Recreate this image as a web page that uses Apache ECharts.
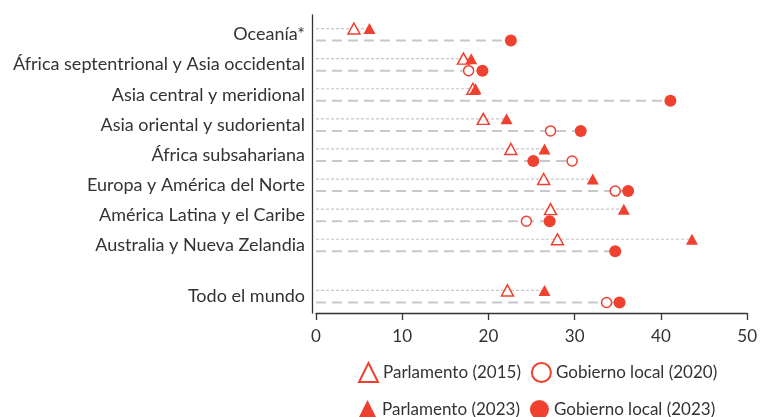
<!DOCTYPE html>
<html lang="es">

<head>
    <meta charset="UTF-8">
    <title>Mujeres en parlamentos y gobiernos locales</title>
    <style>
        body {
            margin: 0;
            background: #fff;
        }
    </style>
</head>

<body>
    <div id="chart" style="width: 760px;height: 417px;"></div>
    <script src="https://cdn.jsdelivr.net/npm/echarts@6/dist/echarts.min.js"></script>
    <script>
        // regiones y su posicion vertical (Todo el mundo va separado)
        var regions = ['Oceanía*', 'África septentrional y Asia occidental', 'Asia central y meridional',
            'Asia oriental y sudoriental', 'África subsahariana', 'Europa y América del Norte',
            'América Latina y el Caribe', 'Australia y Nueva Zelandia', 'Todo el mundo'];
        var rowPos = [0, 1, 2, 3, 4, 5, 6, 7, 8.7];
        var parl2015 = [4.4, 17.1, 18.2, 19.4, 22.6, 26.4, 27.2, 28.0, 22.2];
        var parl2023 = [6.2, 18.0, 18.5, 22.1, 26.5, 32.1, 35.7, 43.6, 26.5];
        var local2020 = [null, 17.7, null, 27.2, 29.7, 34.7, 24.4, null, 33.7];
        var local2023 = [22.6, 19.3, 41.1, 30.7, 25.2, 36.2, 27.1, 34.7, 35.2];
        var xTicks = [0, 10, 20, 30, 40, 50];

        var red = '#ef4130';
        var txt = '#333333';
        var font = 'Lato';

        function points(vals, shift) {
            var out = [];
            vals.forEach(function (v, i) {
                if (v !== null) out.push([v, rowPos[i] + shift]);
            });
            return out;
        }

        function guides(a, b, shift) {
            return rowPos.map(function (p, i) {
                return [Math.max(a[i] || 0, b[i] || 0), p + shift];
            });
        }

        function dashRender(dash, width) {
            return function (params, api) {
                var s = api.coord([0, api.value(1)]);
                var e = api.coord([api.value(0), api.value(1)]);
                return {
                    type: 'line',
                    shape: { x1: s[0], y1: s[1], x2: e[0], y2: e[1] },
                    style: { stroke: '#c8c8c8', lineWidth: width, lineDash: dash }
                };
            };
        }

        var legendText = { color: txt, fontFamily: font, fontSize: 17 };

        var chart = echarts.init(document.getElementById('chart'));
        var option = {
            animation: false,
            grid: { left: 316, right: 9, top: 15, bottom: 104 },
            xAxis: {
                type: 'value',
                min: xTicks[0],
                max: xTicks[xTicks.length - 1],
                interval: 10,
                splitLine: { show: false },
                axisLine: { show: true, onZero: false, lineStyle: { color: '#333', width: 1.3 } },
                axisTick: { show: true, length: 7, lineStyle: { color: '#333', width: 1.3 } },
                axisLabel: { color: txt, fontFamily: font, fontSize: 17, margin: 15 }
            },
            yAxis: {
                type: 'value',
                inverse: true,
                min: -0.65,
                max: 9.25,
                interval: 0.05,
                offset: 4,
                splitLine: { show: false },
                axisTick: { show: false },
                axisLine: { show: true, onZero: false, lineStyle: { color: '#333', width: 1.3 } },
                axisLabel: {
                    color: txt, fontFamily: font, fontSize: 18, margin: 7,
                    formatter: function (v) {
                        for (var i = 0; i < rowPos.length; i++) {
                            if (Math.abs(rowPos[i] - v) < 0.001) return regions[i];
                        }
                        return '';
                    }
                }
            },
            legend: [{
                data: ['Parlamento (2015)', 'Gobierno local (2020)'],
                left: 353, top: 357, itemWidth: 19, itemHeight: 19, itemGap: 10,
                textStyle: legendText
            }, {
                data: ['Parlamento (2023)', 'Gobierno local (2023)'],
                left: 353, top: 395, itemWidth: 19, itemHeight: 19, itemGap: 10,
                textStyle: legendText
            }],
            series: [
                {
                    type: 'custom', silent: true, z: 1,
                    renderItem: dashRender([3, 2], 1.2),
                    data: guides(parl2015, parl2023, -0.2)
                },
                {
                    type: 'custom', silent: true, z: 1,
                    renderItem: dashRender([10, 6], 2),
                    data: guides(local2020, local2023, 0.2)
                },
                {
                    name: 'Parlamento (2015)', type: 'scatter', z: 3,
                    symbol: 'triangle', symbolSize: [12, 11],
                    itemStyle: { color: '#fff', borderColor: red, borderWidth: 1.5, opacity: 1 },
                    data: points(parl2015, -0.2)
                },
                {
                    name: 'Parlamento (2023)', type: 'scatter', z: 4,
                    symbol: 'triangle', symbolSize: [12, 11],
                    itemStyle: { color: red, opacity: 1 },
                    data: points(parl2023, -0.2)
                },
                {
                    name: 'Gobierno local (2020)', type: 'scatter', z: 3,
                    symbol: 'circle', symbolSize: 10,
                    itemStyle: { color: '#fff', borderColor: red, borderWidth: 1.5, opacity: 1 },
                    data: points(local2020, 0.2)
                },
                {
                    name: 'Gobierno local (2023)', type: 'scatter', z: 4,
                    symbol: 'circle', symbolSize: 12,
                    itemStyle: { color: red, opacity: 1 },
                    data: points(local2023, 0.2)
                }
            ]
        };
        chart.setOption(option);
    </script>
</body>

</html>
